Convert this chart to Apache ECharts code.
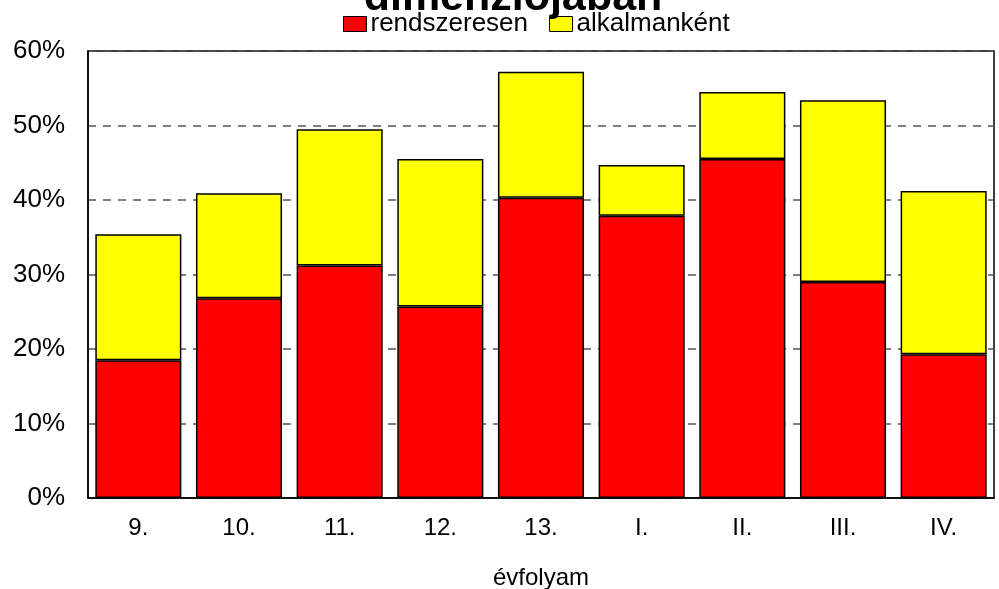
<!doctype html>
<html>
    <head>
        <meta charset="utf-8">
        <title>évfolyam</title>
        <style>
            html, body { margin: 0; padding: 0; background: #fff; }
            #main { width: 999px; height: 589px; }
        </style>
    </head>
    <body>
        <div id="main"></div>
        <script src="https://cdn.jsdelivr.net/npm/echarts@6/dist/echarts.min.js"></script>
        <script>
            var categories = ['9.', '10.', '11.', '12.', '13.', 'I.', 'II.', 'III.', 'IV.'];
            // rendszeresen (bottom, red)
            var regular = [18.5, 26.8, 31.2, 25.7, 40.3, 37.9, 45.5, 29.0, 19.3];
            // alkalmanként (on top, yellow)
            var occasional = [16.9, 14.1, 18.3, 19.8, 16.9, 6.8, 9.0, 24.4, 21.9];
            var yTicks = [0, 10, 20, 30, 40, 50, 60];

            var chart = echarts.init(document.getElementById('main'), null, {
                devicePixelRatio: 1
            });

            var font = 'Liberation Sans, Arial, sans-serif';

            chart.setOption({
                animation: false,
                backgroundColor: '#fff',
                textStyle: { fontFamily: font },
                title: {
                    text: 'dimenziójában',
                    left: 508,
                    textAlign: 'center',
                    top: -28,
                    textStyle: {
                        fontFamily: font,
                        fontSize: 43,
                        fontWeight: 'bold',
                        color: '#000'
                    }
                },
                legend: {
                    top: 6,
                    left: 338,
                    itemWidth: 23,
                    itemHeight: 15,
                    itemGap: 21,
                    icon: 'rect',
                    itemStyle: { borderColor: '#000', borderWidth: 1 },
                    textStyle: {
                        fontFamily: font,
                        fontSize: 26,
                        color: '#000',
                        padding: [0, 0, 0, -1]
                    },
                    data: ['rendszeresen', 'alkalmanként']
                },
                grid: {
                    left: 88,
                    right: 5,
                    top: 51,
                    bottom: 91,
                    outerBoundsMode: 'none',
                    show: true,
                    borderColor: '#000',
                    borderWidth: 1.5
                },
                xAxis: {
                    type: 'category',
                    data: categories,
                    name: 'évfolyam',
                    nameLocation: 'middle',
                    nameGap: 68,
                    nameTextStyle: {
                        fontFamily: font,
                        fontSize: 24,
                        color: '#000'
                    },
                    axisLine: { lineStyle: { color: '#000', width: 1.5 } },
                    axisTick: { show: false },
                    axisLabel: {
                        fontFamily: font,
                        fontSize: 24,
                        color: '#000',
                        margin: 18
                    }
                },
                yAxis: {
                    type: 'value',
                    min: yTicks[0],
                    max: yTicks[yTicks.length - 1],
                    interval: 10,
                    axisLine: { show: true, lineStyle: { color: '#000', width: 1.5 } },
                    axisTick: { show: false },
                    axisLabel: {
                        fontFamily: font,
                        fontSize: 26,
                        color: '#000',
                        margin: 23,
                        formatter: '{value}%'
                    },
                    splitLine: {
                        show: true,
                        lineStyle: {
                            color: '#555',
                            width: 1.5,
                            type: [8, 7]
                        }
                    }
                },
                series: [{
                    name: 'rendszeresen',
                    type: 'bar',
                    stack: 'total',
                    barCategoryGap: '14.5%',
                    itemStyle: {
                        color: '#ff0000',
                        borderColor: '#000',
                        borderWidth: 1.5
                    },
                    data: regular
                }, {
                    name: 'alkalmanként',
                    type: 'bar',
                    stack: 'total',
                    barCategoryGap: '14.5%',
                    itemStyle: {
                        color: '#ffff00',
                        borderColor: '#000',
                        borderWidth: 1.5
                    },
                    data: occasional
                }]
            });

            window.onresize = chart.resize;
        </script>
    </body>
</html>
